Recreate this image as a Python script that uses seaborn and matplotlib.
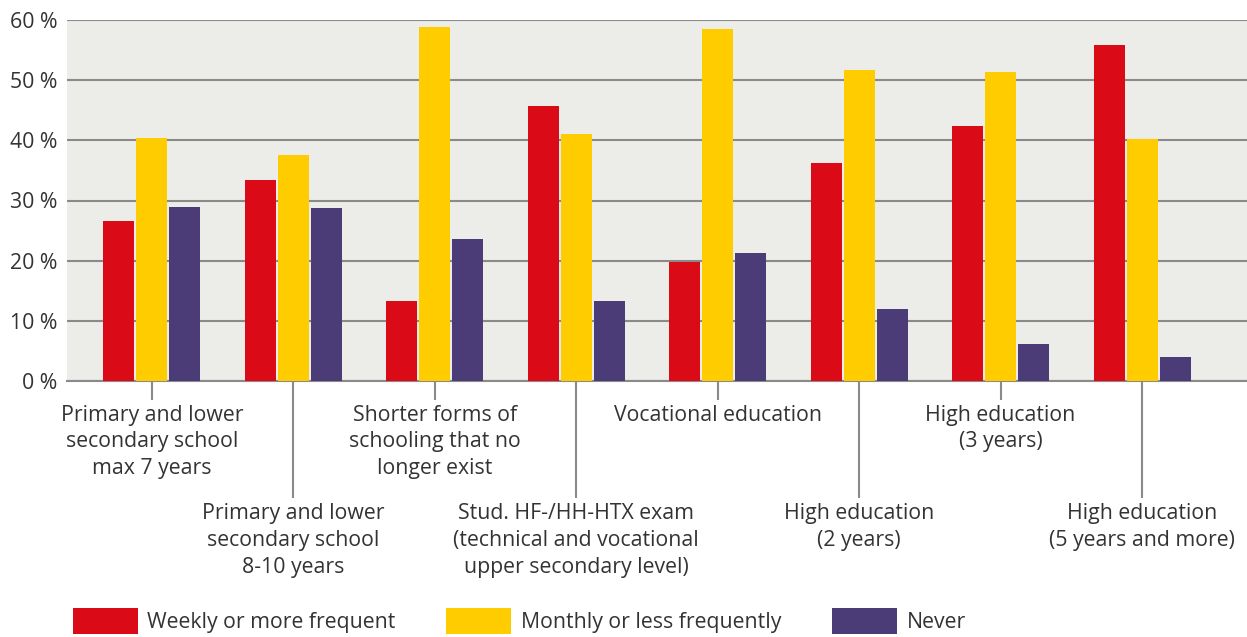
import pandas as pd
import matplotlib.pyplot as plt
import seaborn as sns
from matplotlib.patches import Patch

# Data (percent)
categories = [
    'Primary and lower\nsecondary school\nmax 7 years',
    'Primary and lower\nsecondary school\n8-10 years',
    'Shorter forms of\nschooling that no\nlonger exist',
    'Stud. HF-/HH-HTX exam\n(technical and vocational\nupper secondary level)',
    'Vocational education',
    'High education\n(2 years)',
    'High education\n(3 years)',
    'High education\n(5 years and more)',
]
weekly = [26.6, 33.4, 13.3, 45.7, 19.8, 36.2, 42.3, 55.8]
monthly = [40.4, 37.5, 58.9, 41.0, 58.5, 51.7, 51.3, 40.3]
never = [29.0, 28.8, 23.6, 13.3, 21.3, 12.0, 6.1, 4.0]
series_names = ['Weekly or more frequent', 'Monthly or less frequently', 'Never']
colors = ['#da0a16', '#ffcc00', '#4b3c78']
yticks = [0, 10, 20, 30, 40, 50, 60]

# Long format table for seaborn
df = pd.DataFrame({
    'category': categories * 3,
    'series': [s for s in series_names for _ in categories],
    'value': weekly + monthly + never,
})

sns.set_style('white')
plt.rcParams['font.family'] = ['Open Sans', 'DejaVu Sans']
text_color = '#333333'
fs = 15.3

fig = plt.figure(figsize=(12.47, 6.37), dpi=100)
ax = fig.add_axes([67 / 1247, 1 - 381 / 637, 1 - 67 / 1247, 361 / 637])
ax.set_facecolor('#ecece8')

sns.barplot(data=df, x='category', y='value', hue='series', order=categories,
            hue_order=series_names, palette=colors, saturation=1, width=0.7,
            gap=0.06, linewidth=0, ax=ax, legend=False, zorder=3)

ax.set_ylim(0, 60)
ax.set_xlim(-0.6, len(categories) - 1 + 0.742)
ax.set_yticks(yticks)
ax.set_yticklabels([f'{v} %' for v in yticks], fontsize=fs, color=text_color)
ax.yaxis.grid(True, color='#8a8a8a', linewidth=1.5, zorder=0)
ax.set_axisbelow(True)
for side in ['left', 'right', 'top']:
    ax.spines[side].set_visible(False)
ax.spines['bottom'].set_color('#8a8a8a')
ax.spines['bottom'].set_linewidth(1.5)
ax.tick_params(axis='y', length=0, pad=7)
ax.set_xlabel('')
ax.set_ylabel('')

ax.set_xticks(range(len(categories)))
ax.set_xticklabels(categories, fontsize=fs, color=text_color, linespacing=1.36)
ax.tick_params(axis='x', bottom=True, length=0, width=1.5, color='#8a8a8a',
               labelcolor=text_color)
# alternate short / long ticks so the labels sit on two rows
for i, tick in enumerate(ax.xaxis.get_major_ticks()):
    if i % 2 == 0:
        tick.set_pad(17)
        tick.tick1line.set_markersize(13.8)
    else:
        tick.set_pad(88)
        tick.tick1line.set_markersize(84.5)

handles = [Patch(facecolor=c, edgecolor='none') for c in colors]
fig.legend(handles, series_names, loc='lower left', bbox_to_anchor=(0.043, -0.025),
           ncol=3, frameon=False, fontsize=fs, handlelength=3.05, handleheight=1.5,
           handletextpad=0.45, columnspacing=2.4, labelcolor=text_color)

plt.savefig('out.png', dpi=100)
